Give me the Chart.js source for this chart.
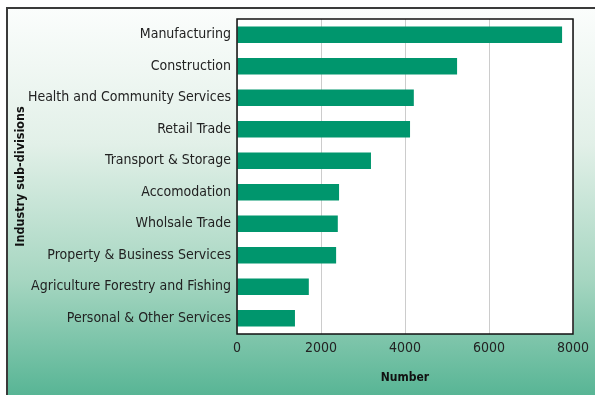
<!DOCTYPE html>
<html>
<head>
<meta charset="utf-8">
<script src="https://cdn.jsdelivr.net/npm/chart.js@4.4.0/dist/chart.umd.min.js"></script>
<style>
  html, body { margin: 0; padding: 0; background: #fff; overflow: hidden; }
  .frame {
    position: absolute; left: 6px; top: 7px; width: 589px; height: 386px;
    border-top: 2px solid #3a3a3a; border-left: 2px solid #3a3a3a;
    background: linear-gradient(to bottom, #fbfdfc 0%, #e2f0e8 35%, #a6d6c1 70%, #58b595 100%);
  }
  .box { position: absolute; left: 0; top: 0; width: 589px; height: 386px; }
</style>
</head>
<body>
<div class="frame"><div class="box"><canvas id="myChart"></canvas></div></div>
<script>
// industry counts by sub-division
let industries=['Manufacturing','Construction','Health and Community Services','Retail Trade','Transport & Storage','Accomodation','Wholsale Trade','Property & Business Services','Agriculture Forestry and Fishing','Personal & Other Services']
let numbers=[7740,5240,4210,4120,3190,2430,2400,2360,1710,1380]
let xTicks=[0,2000,4000,6000,8000]

let fontName='"Liberation Sans Narrow", "DejaVu Sans Condensed", sans-serif'

// white plot area with a black box round it
const plotBox={
    id:'plotBox',
    beforeDraw(chart){
        const {ctx,chartArea:a}=chart;
        ctx.save();
        ctx.fillStyle='#ffffff';
        ctx.fillRect(a.left,a.top,a.right-a.left,a.bottom-a.top);
        ctx.restore();
    },
    afterDraw(chart){
        const {ctx,chartArea:a}=chart;
        ctx.save();
        ctx.strokeStyle='#111';
        ctx.lineWidth=1.5;
        ctx.strokeRect(a.left,a.top,a.right-a.left,a.bottom-a.top);
        ctx.restore();
    }
}

var ctx = document.getElementById('myChart').getContext('2d');
var myChart = new Chart(ctx, {
    type: 'bar',
    data: {
        labels: industries,
        datasets: [{
            data: numbers,
            backgroundColor: '#00966d',
            borderWidth: 0,
            barPercentage: 0.52,
            categoryPercentage: 1
        }]
    },
    options: {
        indexAxis: 'y',
        responsive: true,
        maintainAspectRatio: false,
        animation: false,
        layout: { padding: { left: 0, right: 24, top: 10, bottom: 0 } },
        plugins: { legend: { display: false }, tooltip: { enabled: false } },
        scales: {
            x: {
                min: 0,
                max: 8000,
                afterBuildTicks: axis => { axis.ticks = xTicks.map(v => ({ value: v })) },
                afterFit: axis => {
                    axis.height = 61;
                    axis.paddingLeft = 0;
                    axis.paddingRight = 0;
                },
                grid: { color: '#cccccc', lineWidth: 1, drawTicks: false },
                border: { display: false },
                ticks: {
                    color: '#222', padding: 6,
                    font: { family: fontName, size: 14 },
                    callback: v => String(v)
                },
                title: {
                    display: true,
                    text: 'Number',
                    color: '#111',
                    padding: { top: 6, bottom: 10 },
                    font: { family: fontName, size: 12, weight: 'bold' }
                }
            },
            y: {
                afterFit: axis => {
                    axis.width = 229;
                    axis.paddingTop = 0;
                    axis.paddingBottom = 0;
                },
                grid: { display: false, drawTicks: false },
                border: { display: false },
                ticks: { color: '#222', padding: 6, font: { family: fontName, size: 14 } },
                title: {
                    display: true,
                    text: 'Industry sub-divisions',
                    color: '#111',
                    padding: { top: 5 },
                    font: { family: fontName, size: 12.5, weight: 'bold' }
                }
            }
        }
    },
    plugins: [plotBox]
});
</script>
</body>
</html>
